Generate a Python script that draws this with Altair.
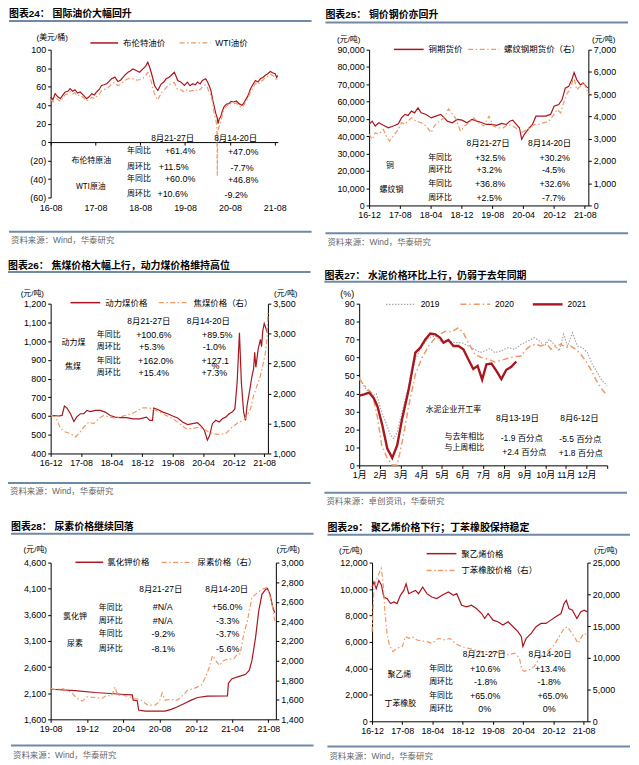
import altair as alt
import pandas as pd

# ---------------- data ----------------
# Figure 24 - oil (months after 2016-08)
P1_BRENT_M = [0, 0.6, 1.2, 1.9, 2.6, 3.3, 3.9, 4.6, 5.2, 5.9,
              6.5, 7.2, 7.9, 8.8, 9.6, 10.3, 11.0, 11.7, 12.3, 13.0,
              13.6, 14.3, 15.0, 15.7, 16.3, 17.2, 18.0, 18.7, 19.4, 20.0,
              20.7, 21.3, 22.0, 22.9, 23.8, 24.7, 25.4, 26.0, 26.5, 26.9,
              27.4, 27.8, 28.3, 28.7, 29.6, 30.3, 30.9, 31.6, 32.2, 33.1,
              33.6, 34.0, 34.9, 35.8, 36.6, 37.3, 38.0, 38.7, 39.3, 40.0,
              40.6, 41.5, 42.0, 42.4, 42.9, 43.3, 43.8, 44.2, 44.6, 44.8,
              45.1, 45.5, 45.9, 46.4, 47.0, 47.7, 48.3, 49.0, 49.7, 50.4,
              51.2, 51.7, 52.1, 52.8, 53.5, 54.1, 54.8, 55.5, 56.1, 56.8,
              57.4, 58.1, 58.8, 59.4, 60.1, 60.5, 60.8]
P1_BRENT = [48.8, 46, 52.4, 49, 47, 51, 54.2, 55, 57.8, 55,
            56.7, 53, 54.2, 50.6, 47, 49, 52.4, 51, 54.2, 57,
            61.3, 62, 63.1, 66, 68.5, 70.3, 65.6, 67, 70.3, 73,
            75.6, 77, 79.2, 77.4, 75.6, 79.2, 82, 86.4, 81, 75.6,
            68, 61.3, 58, 56, 63.1, 65, 68.5, 70, 72.1, 75.6,
            71, 66.7, 64.9, 61.3, 64.9, 61, 63.1, 62, 64.9, 63,
            66.7, 68.5, 65, 61.3, 56, 47, 38, 31, 26, 20,
            25, 27.3, 33, 38.1, 41, 41.6, 44, 43.4, 44.5, 41.6,
            39.9, 42, 45.2, 50, 57.8, 62, 66.7, 65, 68.5, 70,
            72.1, 74, 76.4, 75, 73.9, 70, 72]
P1_WTI_M = [0, 0.6, 1.2, 1.9, 2.6, 3.3, 3.9, 4.6, 5.2, 5.9,
            6.5, 7.2, 7.9, 8.8, 9.6, 10.3, 11.0, 11.7, 12.3, 13.0,
            13.6, 14.3, 15.0, 15.7, 16.3, 17.2, 18.0, 18.7, 19.4, 20.0,
            20.7, 21.3, 22.0, 22.9, 23.8, 24.7, 25.4, 26.0, 26.5, 26.9,
            27.4, 27.8, 28.3, 28.7, 29.6, 30.3, 30.9, 31.6, 32.2, 33.1,
            33.6, 34.0, 34.9, 35.8, 36.6, 37.3, 38.0, 38.7, 39.3, 40.0,
            40.6, 41.5, 42.0, 42.4, 42.9, 43.3, 43.8, 44.2, 44.5, 44.6,
            44.7, 45.1, 45.5, 45.9, 46.4, 47.0, 47.7, 48.3, 49.0, 49.7,
            50.4, 51.2, 51.7, 52.1, 52.8, 53.5, 54.1, 54.8, 55.5, 56.1,
            56.8, 57.4, 58.1, 58.8, 59.4, 60.1, 60.5, 60.8]
P1_WTI = [46, 43.5, 49.5, 46, 44, 48, 51.5, 52, 54.5, 52,
          53.5, 50, 51, 48, 44.5, 46, 48.5, 47, 49.5, 51.5,
          55.5, 57, 57.5, 60, 63, 64.5, 61, 62.5, 65, 67,
          68.5, 69, 68.5, 67, 67.5, 69, 72, 75.5, 71, 66,
          58, 52, 48, 45.5, 53.5, 56, 59, 61.5, 63.5, 64.5,
          60, 57, 56.5, 54, 57, 55, 56, 55, 57.5, 56.5,
          60, 62, 58.5, 54.5, 50, 44, 30, 24, 17, -37,
          12, 17, 22, 28, 35.5, 39, 40, 42, 41.5, 42.5,
          39, 37.5, 40, 43, 47.5, 54.5, 58.5, 63.5, 62, 65.5,
          67, 70, 71, 73.5, 72, 70.5, 66.5, 68.5]
P1_HEAD = ["8月21-27日", "8月14-20日"]
P1_GROUPS = ["布伦特原油", "WTI原油"]
P1_ROWS = ["年同比", "周环比", "年同比", "周环比"]
P1_COL1 = ["+61.4%", "+11.5%", "+60.0%", "+10.6%"]
P1_COL2 = ["+47.0%", "-7.7%", "+46.8%", "-9.2%"]

# Figure 25 - copper & rebar (months after 2016-12)
P2_CU_M = [0, 0.8, 1.6, 2.5, 3.7, 5.0, 6.3, 7.6, 8.4, 9.3,
           10.1, 11.0, 11.8, 12.7, 13.5, 14.8, 16.1, 17.3, 18.6, 19.5,
           20.3, 21.6, 22.9, 24.1, 25.4, 26.7, 28.0, 29.3, 30.5, 31.8,
           33.1, 34.4, 35.6, 36.5, 37.3, 38.2, 39.0, 39.6, 40.3, 41.6,
           42.4, 43.3, 44.6, 45.8, 47.1, 48.0, 49.2, 50.1, 50.9, 51.8,
           52.6, 53.2, 53.9, 54.8, 55.6, 56.3, 56.9]
P2_CU = [46800, 48700, 45900, 47800, 46300, 44900, 45900, 47200, 50600, 52600,
         52000, 54500, 53500, 56400, 53500, 52600, 50600, 51600, 52600, 50600,
         48700, 47800, 49700, 49300, 47800, 49700, 48700, 47800, 46800, 46800,
         46300, 47400, 46800, 48700, 49300, 46800, 44900, 38200, 41100, 44900,
         46800, 51600, 51600, 51600, 52600, 57300, 58300, 61200, 67800, 68800,
         72600, 76800, 72600, 69800, 70700, 68800, 67800]
P2_RB_M = [0, 0.8, 1.6, 2.5, 3.7, 4.6, 5.3, 6.3, 7.6, 8.4,
           9.3, 10.1, 11.0, 12.2, 13.5, 14.8, 16.1, 16.9, 18.2, 19.5,
           20.6, 21.4, 22.4, 23.7, 24.8, 25.9, 27.1, 28.4, 29.7, 31.1,
           32.2, 33.5, 34.8, 36.1, 37.3, 38.6, 39.5, 40.3, 41.6, 42.9,
           44.1, 45.4, 46.7, 48.0, 48.8, 49.7, 50.5, 51.4, 52.2, 53.1,
           53.9, 54.8, 55.6, 56.5, 56.9]
P2_RB = [3200, 2970, 3270, 3200, 3420, 3050, 2900, 3120, 3420, 3720,
         3640, 3790, 3940, 3790, 3720, 3570, 3270, 3570, 3790, 3940,
         4340, 4160, 3940, 3340, 3570, 3720, 3940, 3720, 3570, 4010,
         3570, 3490, 3490, 3640, 3570, 3420, 3270, 3340, 3490, 3640,
         3640, 3720, 3790, 4090, 4310, 4160, 4610, 5050, 5200, 5800,
         5200, 5350, 5570, 5200, 4980]
P2_HEAD = ["8月21-27日", "8月14-20日"]
P2_GROUPS = ["铜", "螺纹钢"]
P2_ROWS = ["年同比", "周环比", "年同比", "周环比"]
P2_COL1 = ["+32.5%", "+3.2%", "+36.8%", "+2.5%"]
P2_COL2 = ["+30.2%", "-4.5%", "+32.6%", "-7.7%"]

# Figure 26 - coal (months after 2016-12)
P3_TH_M = [0, 2.2, 3.0, 3.6, 4.3, 5.2, 6.1, 6.8, 7.8, 8.7,
           9.5, 10.4, 11.7, 13.0, 14.3, 15.6, 16.9, 18.2, 19.9, 21.6,
           23.4, 25.1, 26.0, 26.7, 27.0, 28.1, 29.4, 30.7, 32.0, 33.3,
           34.6, 35.9, 37.2, 38.5, 39.4, 40.3, 41.1, 41.7, 42.4, 43.3,
           44.2, 45.0, 45.9, 46.8, 47.6, 48.3, 48.9, 49.5, 50.0, 50.6,
           51.1, 51.5, 52.1, 52.8, 53.2, 53.5, 53.8, 54.4, 55.0, 55.3,
           55.6, 56.0, 56.4, 56.8]
P3_TH = [603, 600, 603, 653, 642, 612, 571, 594, 612, 612,
         630, 624, 630, 630, 621, 603, 594, 591, 591, 585,
         585, 594, 577, 577, 642, 635, 621, 612, 600, 589,
         568, 554, 559, 564, 547, 524, 471, 497, 559, 577,
         568, 585, 594, 612, 621, 638, 780, 1045, 780, 621,
         577, 656, 727, 815, 850, 940, 860, 956, 1009, 970,
         1053, 1094, 1071, 1045]
P3_CK_M = [0, 1.3, 2.6, 3.9, 5.2, 6.5, 7.4, 8.7, 10.0, 11.3,
           12.6, 13.9, 15.6, 17.3, 19.0, 21.2, 22.9, 24.2, 25.5, 26.8,
           28.6, 30.3, 32.0, 33.8, 35.5, 37.2, 39.0, 40.7, 42.4, 44.2,
           45.9, 47.6, 49.4, 50.6, 51.5, 52.4, 53.2, 54.1, 55.0, 55.6,
           56.3, 56.7, 57.0]
P3_CK = [1635, 1607, 1414, 1359, 1331, 1276, 1331, 1442, 1524, 1497,
         1580, 1635, 1607, 1591, 1624, 1662, 1717, 1762, 1762, 1745,
         1690, 1635, 1580, 1497, 1414, 1414, 1442, 1386, 1331, 1315,
         1331, 1442, 1524, 1552, 1635, 1745, 1966, 2131, 2297, 2462,
         2683, 2904, 3346]
P3_HEAD = ["8月21-27日", "8月14-20日"]
P3_GROUPS = ["动力煤", "焦煤"]
P3_ROWS = ["年同比", "周环比", "年同比", "周环比"]
P3_COL1 = ["+100.6%", "+5.3%", "+162.0%", "+15.4%"]
P3_COL2 = ["+89.5%", "-1.0%", "+127.1", "+7.3%"]
P3_WRAP = "%"

# Figure 27 - cement utilisation (position in months from 1 Jan)
P4_2019_M = [0, 0.32, 0.64, 0.83, 1.04, 1.28, 1.52, 1.68, 1.84, 2.08,
             2.4, 2.72, 3.04, 3.36, 3.68, 4.0, 4.32, 4.64, 4.96, 5.28,
             5.6, 5.84, 6.08, 6.32, 6.56, 6.88, 7.2, 7.52, 7.84, 8.16,
             8.48, 8.72, 8.96, 9.2, 9.44, 9.68, 9.89, 10.08, 10.32, 10.56,
             10.8, 11.04, 11.28, 11.52, 11.76, 12.0]
P4_2019 = [49, 42.5, 38.8, 39.8, 31.5, 24.1, 16.7, 14.9, 18.6, 29.6,
           44.4, 59.1, 66.4, 71, 72, 68.3, 69.2, 68.3, 68.3, 66.4,
           64.6, 62.8, 63.7, 65, 62.8, 63.7, 65.5, 64.6, 67.4, 69.2,
           71, 69.2, 66.4, 70.1, 67.4, 63.7, 72.9, 66.4, 73.8, 66.4,
           65.5, 62.8, 56.3, 51.7, 47.1, 44.4]
P4_2020_M = [0, 0.32, 0.64, 0.88, 1.09, 1.36, 1.6, 1.84, 2.08, 2.4,
             2.72, 3.04, 3.36, 3.68, 3.92, 4.16, 4.48, 4.8, 5.04, 5.28,
             5.6, 5.92, 6.24, 6.56, 6.88, 7.2, 7.52, 7.84, 8.08, 8.32,
             8.56, 8.8, 9.04, 9.28, 9.52, 9.76, 10.0, 10.24, 10.48, 10.72,
             10.96, 11.2, 11.44, 11.68, 11.92]
P4_2020 = [48, 43.5, 40, 27, 11.2, 3.9, 0.2, 0.2, 13, 33.3,
           50.8, 60, 66.4, 71, 72.9, 74.7, 74.3, 76.6, 73.8, 68.3,
           61.8, 60, 59.1, 57.6, 58.5, 59.6, 60.5, 60.9, 64.6, 66.8,
           67.4, 66.4, 68.3, 64.6, 66.4, 67.4, 65.5, 66.4, 64.6, 61.8,
           58.2, 53.6, 48, 43.4, 39.8]
P4_2021_M = [0, 0.24, 0.48, 0.7, 0.88, 1.12, 1.36, 1.6, 1.84, 2.08,
             2.4, 2.72, 2.96, 3.2, 3.44, 3.68, 3.92, 4.08, 4.32, 4.56,
             4.8, 5.04, 5.28, 5.52, 5.73, 5.95, 6.16, 6.4, 6.64, 6.88,
             7.12, 7.36, 7.6]
P4_2021 = [38.8, 39.5, 40.5, 37.5, 33, 22.3, 9.4, 4.2, 11.2, 26,
           42.5, 62.8, 65.5, 70.1, 73.4, 72.9, 71, 68.3, 69.8, 66.4,
           66.4, 64.6, 59.1, 53.6, 55.4, 47.7, 56.3, 56.7, 52.6, 48,
           53.2, 54.8, 57.8]
P4_YEARS = ["2019", "2020", "2021"]
P4_LABEL = "水泥企业开工率"
P4_HEAD = ["8月13-19日", "8月6-12日"]
P4_ROWS = ["与去年相比", "与上周相比"]
P4_COL1 = ["-1.9 百分点", "+2.4 百分点"]
P4_COL2 = ["-5.5 百分点", "+1.8 百分点"]

# Figure 28 - potash & urea (months after 2019-08)
P5_KCL_M = [0, 2.7, 4.9, 8.2, 9.0, 9.1, 9.55, 9.7, 10.4, 12.6,
            13.3, 14.0, 14.75, 15.5, 16.2, 17.3, 19.5, 19.6, 20.0, 20.8,
            21.5, 21.9, 22.2, 22.6, 22.95, 23.3, 23.7, 23.9, 24.2, 24.5,
            24.7]
P5_KCL = [2176, 2151, 2113, 2075, 2068, 1967, 1955, 1777, 1758, 1758,
          1790, 1840, 1904, 1967, 2018, 2043, 2049, 2290, 2378, 2423,
          2461, 2537, 2727, 3170, 3676, 3992, 4087, 4106, 3992, 3739,
          3644]
P5_UREA_M = [0, 0.55, 1.3, 1.8, 2.4, 2.9, 3.5, 4.0, 4.9, 5.65,
             6.2, 6.7, 7.1, 7.4, 8.0, 8.7, 9.3, 10.0, 10.7, 11.5,
             12.0, 12.3, 12.6, 13.3, 14.0, 14.6, 15.1, 15.8, 16.6, 17.1,
             17.5, 17.85, 18.2, 18.6, 19.1, 19.7, 20.2, 20.6, 20.9, 21.3,
             21.7, 22.2, 22.8, 23.3, 23.8, 24.0, 24.4, 24.7]
P5_UREA = [1714, 1704, 1714, 1697, 1663, 1613, 1586, 1630, 1623, 1613,
           1646, 1636, 1731, 1646, 1646, 1630, 1613, 1596, 1545, 1545,
           1579, 1670, 1596, 1603, 1596, 1646, 1697, 1714, 1748, 1832,
           1933, 2051, 2001, 1950, 2001, 2018, 2018, 2068, 2068, 2271,
           2406, 2642, 2693, 2727, 2743, 2710, 2592, 2406]
P5_HEAD = ["8月21-27日", "8月14-20日"]
P5_GROUPS = ["氯化钾", "尿素"]
P5_ROWS = ["年同比", "周环比", "年同比", "周环比"]
P5_COL1 = ["#N/A", "#N/A", "-9.2%", "-8.1%"]
P5_COL2 = ["+56.0%", "-3.3%", "-3.7%", "-5.6%"]

# Figure 29 - PE & SBR (months after 2016-12)
P6_PE_M = [0, 0.5, 1.1, 1.8, 2.5, 3.1, 4.0, 4.9, 5.8, 6.6,
           7.5, 8.4, 9.0, 9.7, 10.6, 11.5, 12.3, 13.4, 14.5, 15.8,
           17.1, 18.5, 20.2, 21.5, 22.4, 23.7, 25.0, 26.3, 27.6, 29.0,
           29.8, 30.7, 32.0, 33.3, 34.6, 36.0, 37.3, 38.6, 39.5, 39.9,
           40.8, 42.1, 43.4, 44.7, 46.0, 47.3, 48.6, 50.0, 50.8, 51.4,
           52.1, 53.0, 54.2, 55.2, 56.1, 57.0]
P6_PE = [10150, 10525, 10025, 10650, 10275, 9400, 9275, 8900, 9025, 8900,
         9525, 9900, 10400, 9650, 9775, 9900, 9650, 10150, 9650, 9400,
         9275, 9525, 9775, 9525, 9650, 8775, 8650, 8775, 8525, 8150,
         7775, 8150, 7650, 7525, 7275, 7525, 7150, 6775, 6400, 5650,
         6275, 6650, 7150, 7400, 7400, 7650, 7900, 8150, 8900, 9150,
         8525, 8400, 7775, 8275, 8400, 8275]
P6_SBR_M = [0, 0.5, 1.1, 1.8, 2.4, 2.9, 3.4, 4.0, 4.6, 5.5,
            6.6, 8.0, 8.8, 9.7, 10.6, 11.9, 13.2, 14.5, 15.8, 17.6,
            19.3, 20.6, 22.0, 23.7, 25.5, 27.2, 29.0, 30.7, 32.5, 34.2,
            36.0, 37.7, 39.0, 39.6, 40.3, 41.6, 42.9, 44.3, 45.6, 46.9,
            48.2, 49.5, 50.8, 51.7, 52.6, 53.5, 54.5, 55.2, 56.1, 57.0]
P6_SBR = [14110, 20880, 22190, 23230, 24110, 21930, 17240, 13590, 12030, 10990,
          11510, 11770, 13330, 13070, 13330, 12810, 12660, 12550, 12290, 13070,
          12810, 13070, 12290, 11770, 11510, 11250, 10990, 10990, 10730, 10990,
          10470, 10730, 9950, 8130, 7870, 8130, 8650, 9950, 10730, 11250,
          12030, 13330, 14630, 14900, 14110, 13330, 12290, 13070, 13850, 13590]
P6_HEAD = ["8月21-27日", "8月14-20日"]
P6_GROUPS = ["聚乙烯", "丁苯橡胶"]
P6_ROWS = ["年同比", "周环比", "年同比", "周环比"]
P6_COL1 = ["+10.6%", "-1.8%", "+65.0%", "0%"]
P6_COL2 = ["+13.4%", "-1.8%", "+65.0%", "0%"]

TITLES = ["图表24：  国际油价大幅回升", "图表25：  铜价钢价亦回升",
          "图表26：  焦煤价格大幅上行，动力煤价格维持高位",
          "图表27：  水泥价格环比上行，仍弱于去年同期",
          "图表28：  尿素价格继续回落", "图表29：  聚乙烯价格下行；丁苯橡胶保持稳定"]
SOURCES = ["资料来源：Wind，华泰研究", "资料来源：Wind，华泰研究", "资料来源：Wind，华泰研究",
           "资料来源：卓创资讯，华泰研究", "资料来源：Wind，华泰研究", "资料来源：Wind，华泰研究"]
LEGENDS = [["布伦特油价", "WTI油价"], ["铜期货价", "螺纹钢期货价（右）"],
           ["动力煤价格", "焦煤价格（右）"], ["氯化钾价格", "尿素价格（右）"],
           ["聚乙烯价格", "丁苯橡胶价格（右）"]]
UNIT_T = "(元/吨)"
UNIT_OIL = "(美元/桶)"
UNIT_PCT = "(%)"

# ---------------- styling ----------------
FONT = "Liberation Sans, Noto Sans CJK SC"
CJK = "Noto Sans CJK SC"
RED = "#A8161F"
ORANGE = "#EE9966"
GREY = "#A6A6A6"
RULEC = "#7089A4"
DASHDOT = [5, 2.5, 1.5, 2.5]
CELL_W = 305
DUMMY = pd.DataFrame({"k": [0]})


def dates(start, months):
    t0 = pd.Timestamp(start)
    return [t0 + pd.Timedelta(days=30.44 * m) for m in months]


def dt(y, m, d=1):
    return alt.DateTime(year=y, month=m, date=d)


class Panel:
    def __init__(self, L, T, W, H):
        self.L, self.T, self.W, self.H = L, T, W, H

    def text(self, s, xc, yc, size=8.5, align="center", font=FONT, color="#000", weight="normal"):
        return alt.Chart(DUMMY).mark_text(
            text=s, align=align, baseline="middle", font=font, fontSize=size,
            color=color, fontWeight=weight
        ).encode(x=alt.value(xc - self.L), y=alt.value(yc - self.T))

    def seg(self, x1, x2, yc, color, width, dash=None):
        kw = {"color": color, "strokeWidth": width}
        if dash is not None:
            kw["strokeDash"] = dash
        return alt.Chart(DUMMY).mark_rule(**kw).encode(
            x=alt.value(x1 - self.L), x2=alt.value(x2 - self.L), y=alt.value(yc - self.T))

    def frame(self, title, source, rule_y, src_rule_y, src_y):
        return [self.text(title, 0, 0, size=10, align="left", weight="bold"),
                self.seg(0, CELL_W, rule_y, RULEC, 2),
                self.seg(0, CELL_W, src_rule_y, RULEC, 2),
                self.text(source, 2, src_y, size=8.5, align="left", color="#666666")]

    def legend_item(self, x1, x2, tx, y, label, color, width, dash=None):
        return [self.seg(x1, x2, y, color, width, dash),
                self.text(label, tx, y, size=8.5, align="left")]


def notes(p, head, head_xy, groups, group_xy, rows, row_x, row_ys, col1, c1x, col2, c2x, c2y=None):
    out = []
    for s, (x, y) in zip(head, head_xy):
        out.append(p.text(s, x, y, size=8.5))
    for s, (x, y) in zip(groups, group_xy):
        out.append(p.text(s, x, y, size=8, font=CJK))
    for s, y in zip(rows, row_ys):
        out.append(p.text(s, row_x, y, size=8, font=CJK))
    for s, x, y in zip(col1, c1x, row_ys):
        out.append(p.text(s, x, y, size=9))
    for s, x, y in zip(col2, c2x, c2y or row_ys):
        out.append(p.text(s, x, y, size=9))
    return out


def line(df, color, width, dash, xenc, yenc):
    kw = {"color": color, "strokeWidth": width}
    if dash is not None:
        kw["strokeDash"] = dash
    return alt.Chart(df).mark_line(**kw).encode(x=xenc, y=yenc)


def tx(domain, ticks, **kw):
    ax = alt.Axis(values=ticks, format="%y-%m", labelFlush=False, labelOverlap=False, title=None, **kw)
    return alt.X("d:T", scale=alt.Scale(domain=domain), axis=ax)


def ty(domain, values, orient, **kw):
    return alt.Y("v:Q", scale=alt.Scale(domain=domain),
                 axis=alt.Axis(values=values, orient=orient, format=",.0f", title=None,
                               labelOverlap=False, **kw))


def frame_df(start, m, v):
    return pd.DataFrame({"d": dates(start, m), "v": v})


TICKS_8M = [dt(2016, 12), dt(2017, 8), dt(2018, 4), dt(2018, 12), dt(2019, 8),
            dt(2020, 4), dt(2020, 12), dt(2021, 8)]

# ---------------- panel 1 ----------------
p1 = Panel(42, 36, 229, 149)
below0 = p1.H * 60 / 160
x1 = tx([dt(2016, 8), dt(2021, 8, 26)], [dt(y, 8) for y in range(2016, 2022)],
        offset=-below0, labelPadding=below0 + 3)
y1 = alt.Y("v:Q", scale=alt.Scale(domain=[-60, 100]),
           axis=alt.Axis(values=list(range(-60, 101, 20)), title=None, labelOverlap=False,
                         labelExpr="datum.value < 0 ? '(' + (-datum.value) + ')' : '' + datum.value"))
c1 = alt.layer(
    line(frame_df("2016-08-01", P1_BRENT_M, P1_BRENT), RED, 1.2, None, x1, y1),
    line(frame_df("2016-08-01", P1_WTI_M, P1_WTI), ORANGE, 1.2, DASHDOT, x1, y1),
    *p1.frame(TITLES[0], SOURCES[0], 7, 219.5, 228),
    p1.text(UNIT_OIL, 43.5, 24.5, size=8),
    *p1.legend_item(82, 110, 115, 29.2, LEGENDS[0][0], RED, 1.5),
    *p1.legend_item(172, 203, 208, 29.2, LEGENDS[0][1], ORANGE, 1.3, DASHDOT),
    *notes(p1, P1_HEAD, [(165, 124.8), (228.5, 124.8)], P1_GROUPS, [(83, 148.5), (82.5, 174.5)],
           P1_ROWS, 131, [138.5, 154.5, 166.5, 181.5], P1_COL1, [172.5, 166, 172.5, 165],
           P1_COL2, [236, 235, 236, 229], [139.5, 155.5, 167.5, 182.5]),
).properties(width=p1.W, height=p1.H)

# ---------------- panel 2 ----------------
p2 = Panel(44, 34.5, 221, 157)
x2 = tx([dt(2016, 12), dt(2021, 8, 29)], TICKS_8M)
c2 = alt.layer(
    line(frame_df("2016-12-01", P2_CU_M, P2_CU), RED, 1.2, None, x2,
         ty([0, 90000], list(range(0, 90001, 10000)), "left")),
    line(frame_df("2016-12-01", P2_RB_M, P2_RB), ORANGE, 1.2, DASHDOT, x2,
         ty([0, 7000], list(range(0, 7001, 1000)), "right")),
    *p2.frame(TITLES[1], SOURCES[1], 7, 219.5, 228),
    p2.text(UNIT_T, 23.5, 24.5, size=8), p2.text(UNIT_T, 280.5, 24.5, size=8),
    *p2.legend_item(69, 99, 104, 34.2, LEGENDS[1][0], RED, 1.5),
    *p2.legend_item(144, 175, 180, 34.2, LEGENDS[1][1], ORANGE, 1.3, DASHDOT),
    *notes(p2, P2_HEAD, [(164, 128.5), (226, 128.5)], P2_GROUPS, [(65, 151.5), (66.5, 175.5)],
           P2_ROWS, 115.5, [143.5, 155.5, 169.5, 184.5], P2_COL1, [166, 165, 166, 165],
           P2_COL2, [231, 230, 231, 230]),
).properties(width=p2.W, height=p2.H).resolve_scale(y="independent")

# ---------------- panel 3 ----------------
p3 = Panel(43, 37.6, 219, 151)
x3 = tx([dt(2016, 12), dt(2021, 8, 31)], TICKS_8M)
c3 = alt.layer(
    line(frame_df("2016-12-01", P3_TH_M, P3_TH), RED, 1.2, None, x3,
         ty([400, 1200], list(range(400, 1201, 100)), "left")),
    line(frame_df("2016-12-01", P3_CK_M, P3_CK), ORANGE, 1.2, DASHDOT, x3,
         ty([1000, 3500], list(range(1000, 3501, 500)), "right")),
    *p3.frame(TITLES[2], SOURCES[2], 5.6, 218.3, 226.6),
    p3.text(UNIT_T, 24.5, 27.6, size=8), p3.text(UNIT_T, 280, 27.6, size=8),
    *p3.legend_item(63, 93, 98, 36.6, LEGENDS[2][0], RED, 1.5),
    *p3.legend_item(152, 182, 187, 36.6, LEGENDS[2][1], ORANGE, 1.3, DASHDOT),
    *notes(p3, P3_HEAD, [(142, 55.3), (202, 55.3)], P3_GROUPS, [(66, 77.3), (65.5, 101.3)],
           P3_ROWS, 101.5, [69.3, 81.3, 95.3, 107.3], P3_COL1, [147, 145, 149, 147],
           P3_COL2, [211, 208, 209, 208]),
    p3.text(P3_WRAP, 209, 100.8, size=9),
).properties(width=p3.W, height=p3.H).resolve_scale(y="independent")

# ---------------- panel 4 ----------------
p4 = Panel(35, 27.6, 250, 163)
x4 = alt.X("m:Q", scale=alt.Scale(domain=[0, 12]),
           axis=alt.Axis(values=list(range(13)), title=None, labelFlush=False, labelOverlap=False,
                         labelExpr="datum.value < 12 ? (datum.value + 1) + '月' : ''",
                         labelFont=FONT))
y4 = alt.Y("v:Q", scale=alt.Scale(domain=[0, 90]),
           axis=alt.Axis(values=list(range(0, 91, 10)), title=None, labelOverlap=False))
c4 = alt.layer(
    line(pd.DataFrame({"m": P4_2019_M, "v": P4_2019}), GREY, 1.2, [1.5, 1.5], x4, y4),
    line(pd.DataFrame({"m": P4_2020_M, "v": P4_2020}), ORANGE, 1.5, [6, 3, 1.5, 3], x4, y4),
    line(pd.DataFrame({"m": P4_2021_M, "v": P4_2021}), RED, 2.4, None, x4, y4),
    *p4.frame(TITLES[3], SOURCES[3], 5.6, 218.3, 226.6),
    p4.text(UNIT_PCT, 23, 17.6, size=9),
    *p4.legend_item(62, 92, 97, 28.3, P4_YEARS[0], GREY, 1.2, [1.5, 1.5]),
    *p4.legend_item(137, 167, 172, 28.3, P4_YEARS[1], ORANGE, 1.5, [6, 3, 1.5, 3]),
    *p4.legend_item(210, 240, 245, 28.3, P4_YEARS[2], RED, 2.4),
    p4.text(P4_LABEL, 130, 135, size=8, font=CJK),
    p4.text(P4_HEAD[0], 194.5, 142.6, size=8.5), p4.text(P4_HEAD[1], 257, 142.6, size=8.5),
    p4.text(P4_ROWS[0], 141, 161.6, size=8, font=CJK), p4.text(P4_ROWS[1], 141, 173.3, size=8, font=CJK),
    p4.text(P4_COL1[0], 199, 162.6, size=8.5), p4.text(P4_COL1[1], 201.5, 177.3, size=8.5),
    p4.text(P4_COL2[0], 258, 164, size=8.5), p4.text(P4_COL2[1], 258.5, 178.3, size=8.5),
).properties(width=p4.W, height=p4.H)

# ---------------- panel 5 ----------------
p5 = Panel(40, 36.3, 227, 158)
x5 = tx([dt(2019, 8), dt(2021, 8, 26)],
        [dt(2019, 8), dt(2019, 12), dt(2020, 4), dt(2020, 8), dt(2020, 12), dt(2021, 4), dt(2021, 8)])
c5 = alt.layer(
    line(frame_df("2019-08-01", P5_KCL_M, P5_KCL), RED, 1.2, None, x5,
         ty([1600, 4600], list(range(1600, 4601, 500)), "left")),
    line(frame_df("2019-08-01", P5_UREA_M, P5_UREA), ORANGE, 1.2, DASHDOT, x5,
         ty([1400, 3000], list(range(1400, 3001, 200)), "right")),
    *p5.frame(TITLES[4], SOURCES[4], 7.3, 220.6, 230),
    p5.text(UNIT_T, 24.5, 24, size=8), p5.text(UNIT_T, 279.5, 24, size=8),
    *p5.legend_item(65, 93, 97, 36, LEGENDS[3][0], RED, 1.5),
    *p5.legend_item(152, 183, 188, 36, LEGENDS[3][1], ORANGE, 1.3, DASHDOT),
    *notes(p5, P5_HEAD, [(151, 62.6), (217.5, 62.6)], P5_GROUPS, [(64.5, 91), (64.5, 118.3)],
           P5_ROWS, 100.5, [81.6, 95, 108.3, 123.3], P5_COL1, [153, 153, 153.5, 153.5],
           P5_COL2, [218, 218.5, 218.5, 218.5]),
).properties(width=p5.W, height=p5.H).resolve_scale(y="independent")

# ---------------- panel 6 ----------------
p6 = Panel(45, 35.3, 217, 160)
x6 = tx([dt(2016, 12), dt(2021, 8, 31)], TICKS_8M)
c6 = alt.layer(
    line(frame_df("2016-12-01", P6_PE_M, P6_PE), RED, 1.2, None, x6,
         ty([0, 12000], list(range(0, 12001, 2000)), "left")),
    line(frame_df("2016-12-01", P6_SBR_M, P6_SBR), ORANGE, 1.2, DASHDOT, x6,
         ty([0, 25000], list(range(0, 25001, 5000)), "right")),
    *p6.frame(TITLES[5], SOURCES[5], 7.3, 220.6, 230),
    p6.text(UNIT_T, 23.5, 23.3, size=8), p6.text(UNIT_T, 280.5, 23.3, size=8),
    *p6.legend_item(100, 130, 135, 26.3, LEGENDS[4][0], RED, 1.5),
    *p6.legend_item(100, 130, 135, 43.3, LEGENDS[4][1], ORANGE, 1.3, DASHDOT),
    *notes(p6, P6_HEAD, [(158, 127.6), (224.5, 127.6)], P6_GROUPS, [(72.5, 149), (73.5, 177.6)],
           P6_ROWS, 114.5, [142.3, 156, 170, 183.3], P6_COL1, [159, 159.5, 159, 158.5],
           P6_COL2, [224.5, 223.5, 227, 223.5]),
).properties(width=p6.W, height=p6.H).resolve_scale(y="independent")

row1 = alt.hconcat(c1, c2, spacing=12)
row2 = alt.hconcat(c3, c4, spacing=12)
row3 = alt.hconcat(c5, c6, spacing=12)

chart = alt.vconcat(row1, row2, row3, spacing=15).properties(
    padding={"top": -2, "left": -1, "right": 0, "bottom": 0}
).configure_view(
    stroke=None
).configure_axis(
    grid=False, labelFont="Liberation Sans", labelFontSize=9, labelColor="#000",
    domainColor="#000", tickColor="#000", tickSize=3, labelPadding=2
)

chart.save("out.html", embed_options={"renderer": "svg", "actions": False})
